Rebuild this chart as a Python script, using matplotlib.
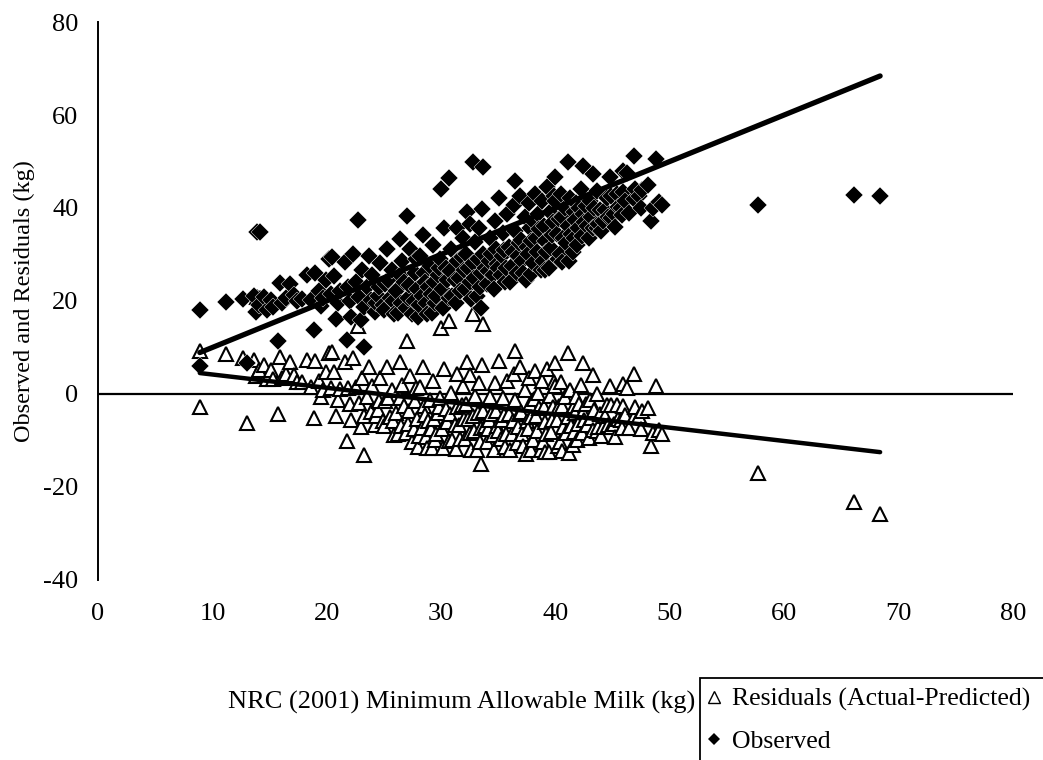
import numpy as np
import matplotlib
matplotlib.use("Agg")
import matplotlib.pyplot as plt
from matplotlib.lines import Line2D
from matplotlib.patches import Rectangle

plt.rcParams['font.family'] = ['Liberation Serif', 'DejaVu Serif']
plt.rcParams['axes.unicode_minus'] = False

# NRC (2001) minimum allowable milk (kg) and observed milk (kg) per cow record
nrc_milk = [
    8.9, 8.9, 11.2, 12.7, 13.0, 13.6, 13.8, 13.9, 14.2, 14.1, 14.5, 14.8, 15.1, 15.3, 15.7,
    15.9, 16.1, 16.4, 16.8, 17.1, 17.4, 17.8, 18.3, 18.6, 18.9, 19.0, 19.3, 19.5, 19.7, 19.9,
    20.2, 20.4, 20.5, 20.6, 20.8, 21.0, 21.2, 21.6, 21.8, 21.9, 22.0, 22.1, 22.3, 22.7, 22.6,
    22.8, 23.0, 23.1, 23.3, 23.3, 23.5, 23.7, 23.9, 24.0, 24.2, 24.3, 24.5, 24.6, 24.7, 24.9,
    25.0, 25.1, 25.3, 25.4, 25.5, 25.7, 25.8, 25.9, 26.1, 26.2, 26.4, 26.4, 26.5, 26.6, 26.8,
    26.9, 27.0, 27.1, 27.2, 27.3, 27.5, 27.6, 27.7, 27.8, 27.9, 28.0, 28.1, 28.2, 28.3, 28.4,
    28.5, 28.6, 28.7, 28.8, 28.9, 29.0, 29.1, 29.2, 29.3, 29.4, 29.5, 29.6, 29.7, 29.8, 29.9,
    30.0, 30.1, 30.2, 30.3, 30.4, 30.5, 30.7, 30.7, 30.8, 30.9, 31.0, 31.2, 31.3, 31.4, 31.4,
    31.6, 31.7, 31.8, 31.9, 32.0, 32.1, 32.2, 32.3, 32.4, 32.5, 32.5, 32.6, 32.8, 32.8, 32.9,
    33.0, 33.1, 33.2, 33.3, 33.4, 33.5, 33.5, 33.6, 33.7, 33.7, 33.8, 34.0, 34.1, 34.2, 34.3,
    34.4, 34.5, 34.6, 34.7, 34.8, 34.9, 35.0, 35.1, 35.2, 35.3, 35.4, 35.5, 35.6, 35.7, 35.8,
    35.9, 36.0, 36.2, 36.3, 36.4, 36.5, 36.5, 36.6, 36.7, 36.8, 36.9, 37.0, 37.1, 37.2, 37.3,
    37.4, 37.5, 37.6, 37.7, 37.8, 37.9, 37.9, 38.0, 38.1, 38.2, 38.3, 38.4, 38.5, 38.6, 38.7,
    38.8, 38.9, 39.0, 39.1, 39.1, 39.2, 39.3, 39.4, 39.5, 39.6, 39.7, 39.8, 39.9, 40.0, 40.0,
    40.1, 40.2, 40.3, 40.4, 40.5, 40.6, 40.6, 40.7, 40.8, 40.9, 41.1, 41.1, 41.2, 41.3, 41.4,
    41.5, 41.6, 41.6, 41.7, 41.8, 41.9, 42.0, 42.1, 42.2, 42.3, 42.4, 42.4, 42.5, 42.7, 42.8,
    42.9, 43.0, 43.1, 43.3, 43.3, 43.4, 43.6, 43.6, 43.7, 43.9, 44.0, 44.2, 44.3, 44.5, 44.6,
    44.8, 44.9, 44.9, 45.1, 45.2, 45.4, 45.5, 45.7, 45.8, 45.9, 45.9, 46.1, 46.3, 46.4, 46.9,
    46.9, 47.0, 47.3, 47.5, 47.6, 48.1, 48.4, 48.5, 48.8, 49.1, 49.3, 57.7, 66.1, 68.4,
]

observed_milk = [
    18.1, 6.0, 19.8, 20.4, 6.7, 21.0, 17.6, 34.8, 34.9, 19.2, 20.8, 18.0, 20.3, 18.6, 11.4,
    23.9, 19.6, 20.7, 23.7, 21.2, 19.9, 20.4, 25.6, 20.1, 13.8, 26.0, 22.1, 18.9, 20.6, 24.6,
    29.0, 21.6, 29.5, 25.4, 16.1, 19.6, 22.2, 28.4, 11.6, 23.1, 19.9, 16.6, 30.1, 37.4, 24.1,
    20.9, 15.9, 26.6, 10.1, 18.6, 22.9, 29.6, 20.1, 25.6, 17.6, 19.5, 21.1, 23.0, 28.1, 19.1,
    18.0, 23.6, 31.1, 24.5, 20.6, 26.6, 20.0, 17.1, 22.1, 17.5, 33.3, 25.5, 19.6, 28.6, 24.1,
    18.5, 38.3, 20.6, 23.5, 31.1, 17.1, 20.0, 26.1, 29.0, 22.6, 16.5, 19.1, 29.6, 21.0, 34.1,
    26.0, 24.1, 19.5, 17.1, 23.0, 27.6, 21.6, 17.5, 32.1, 24.0, 19.6, 21.0, 25.6, 27.0, 29.1,
    44.1, 22.6, 18.5, 35.6, 27.1, 24.5, 46.4, 20.6, 26.5, 31.1, 21.0, 24.6, 19.5, 35.7, 28.6,
    25.0, 22.1, 29.5, 33.6, 26.6, 22.5, 30.1, 39.2, 27.0, 36.6, 24.1, 20.5, 49.9, 28.1, 25.0,
    32.6, 21.1, 29.0, 35.6, 23.0, 18.5, 26.1, 39.8, 48.8, 30.1, 27.0, 23.6, 26.5, 28.6, 33.6,
    30.0, 25.6, 22.5, 37.1, 31.1, 28.0, 27.1, 42.1, 25.5, 29.6, 34.6, 31.0, 24.1, 27.0, 38.6,
    31.6, 24.0, 27.6, 30.5, 40.6, 45.8, 35.1, 26.0, 29.6, 32.5, 42.6, 33.1, 28.5, 26.1, 38.1,
    24.5, 31.6, 30.0, 41.1, 35.6, 25.8, 33.0, 28.1, 37.0, 43.1, 33.6, 30.5, 38.6, 35.5, 26.6,
    41.6, 28.5, 36.1, 26.7, 33.0, 30.6, 44.6, 27.0, 39.1, 31.5, 34.1, 37.0, 42.5, 46.7, 41.6,
    34.5, 29.1, 37.6, 30.0, 43.1, 28.4, 38.0, 33.6, 40.1, 32.5, 49.9, 36.1, 28.5, 42.1, 34.5,
    30.6, 33.5, 39.1, 37.5, 41.1, 32.0, 35.6, 40.0, 44.1, 34.0, 49.0, 38.6, 37.0, 40.5, 36.1,
    33.5, 41.6, 38.0, 47.3, 35.6, 40.0, 35.7, 43.6, 36.5, 39.6, 35.0, 37.1, 39.5, 42.1, 38.0,
    46.6, 37.8, 42.5, 38.6, 36.0, 43.1, 40.2, 40.1, 38.5, 48.0, 43.4, 41.5, 47.6, 39.0, 51.2,
    42.0, 44.1, 42.6, 40.0, 43.9, 45.0, 37.2, 40.0, 50.5, 41.3, 40.6, 40.6, 42.8, 42.6,
]

# Linear trend of the residuals on NRC minimum allowable milk
resid_slope = -0.286
resid_intercept = 7.04

x_ticks = [0, 10, 20, 30, 40, 50, 60, 70, 80]
y_ticks = [-40, -20, 0, 20, 40, 60, 80]

nrc = np.array(nrc_milk)
obs = np.array(observed_milk)
# Predicted milk is the NRC value itself, so residual = actual - predicted
residuals = obs - nrc

fig = plt.figure(figsize=(10.43, 7.6), dpi=100)
ax = fig.add_axes([0.094, 0.237, 0.877, 0.734])

ax.plot(nrc, residuals, linestyle='none', marker='^', markersize=10.3,
        markerfacecolor='white', markeredgecolor='black', markeredgewidth=1.5, zorder=2)
ax.plot(nrc, obs, linestyle='none', marker='D', markersize=8.8,
        markerfacecolor='black', markeredgecolor='white', markeredgewidth=0.3, zorder=3)

x_line = np.array([nrc.min(), nrc.max()])
ax.plot(x_line, x_line, color='black', linewidth=3.8, solid_capstyle='round', zorder=4)
ax.plot(x_line, resid_intercept + resid_slope * x_line, color='black', linewidth=3.2,
        solid_capstyle='round', zorder=4)

ax.axhline(0, color='black', linewidth=1.6, zorder=1)

ax.set_xlim(0, 80)
ax.set_ylim(-40, 80)
ax.set_xticks(x_ticks)
ax.set_yticks(y_ticks)
ax.tick_params(axis='both', length=0, labelsize=19)
ax.tick_params(axis='x', pad=17)
ax.tick_params(axis='y', pad=14)
for side in ('top', 'right', 'bottom'):
    ax.spines[side].set_visible(False)
ax.spines['left'].set_linewidth(1.4)

ax.set_ylabel('Observed and Residuals (kg)', fontsize=17.5, labelpad=6)

fig.text(695 / 1043, 1 - 702 / 760, 'NRC (2001) Minimum Allowable Milk (kg)',
         ha='right', va='center', fontsize=19)

handles = [
    Line2D([], [], linestyle='none', marker='^', markersize=8, markerfacecolor='white',
           markeredgecolor='black', markeredgewidth=1.0),
    Line2D([], [], linestyle='none', marker='D', markersize=6.5, markerfacecolor='black',
           markeredgecolor='black', markeredgewidth=0.0),
]
fig.legend(handles, ['Residuals (Actual-Predicted)', 'Observed'], loc='upper left',
           bbox_to_anchor=(706 / 1043, 1 - 688 / 760), frameon=False, fontsize=18.5,
           handlelength=0.6, handletextpad=0.4, labelspacing=0.72, borderpad=0.0,
           borderaxespad=0.0)

fig.patches.append(Rectangle((700 / 1043, -0.1), 0.5, 0.1 + (760 - 678) / 760,
                             transform=fig.transFigure, fill=False, edgecolor='black',
                             linewidth=1.3))

fig.savefig('out.png', dpi=100)
